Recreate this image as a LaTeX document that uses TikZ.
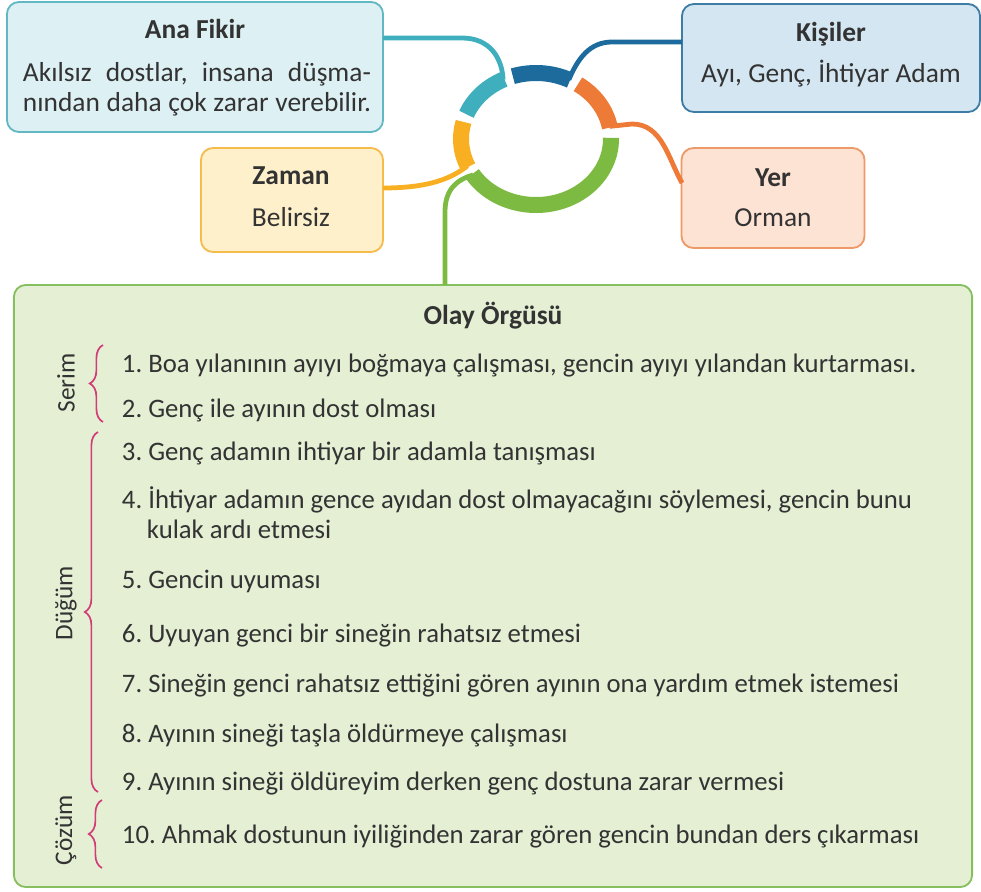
\documentclass[tikz,border=0pt]{standalone}
\usepackage{fontspec}
\usepackage{xcolor}
\setmainfont{Carlito}
\usetikzlibrary{decorations.pathreplacing}

\definecolor{tealC}{HTML}{3FAFBE}
\definecolor{tealF}{HTML}{DDF0F3}
\definecolor{tealB}{HTML}{62B8C2}
\definecolor{blueC}{HTML}{1C6B9C}
\definecolor{blueF}{HTML}{D4E6F1}
\definecolor{blueB}{HTML}{3D7CA5}
\definecolor{orangeC}{HTML}{EE7A38}
\definecolor{orangeF}{HTML}{FCE3D3}
\definecolor{orangeB}{HTML}{EE9A68}
\definecolor{yellowC}{HTML}{F8B022}
\definecolor{yellowF}{HTML}{FEF0CB}
\definecolor{yellowB}{HTML}{F5BC4C}
\definecolor{greenC}{HTML}{7CBA42}
\definecolor{greenF}{HTML}{E4EFD4}
\definecolor{greenB}{HTML}{86BF5F}
\definecolor{braceC}{HTML}{D23C78}
\definecolor{txt}{HTML}{333333}
\frenchspacing

\begin{document}
\begin{tikzpicture}[
  x=0.025cm, y=0.025cm,
  font=\fontsize{19.5}{23}\selectfont, text=txt,
  box/.style={draw, rounded corners=0.3cm, line width=1.3pt, inner sep=0},
  conn/.style={line width=3.4pt},
  ring/.style={line width=0.4cm},
  hd/.style={anchor=base, font=\fontsize{19.5}{23}\selectfont\bfseries},
  ln/.style={anchor=base},
  item/.style={anchor=base west, font=\fontsize{19}{23}\selectfont},
  side/.style={rotate=90, font=\fontsize{18}{21}\selectfont},
  brc/.style={draw=braceC, line width=1.2pt, decorate,
    decoration={brace, amplitude=0.33cm}},
]
\useasboundingbox (0,0) rectangle (981,-892);
% --- kutular ---
\node[box, draw=tealB, fill=tealF, minimum width=9.4cm, minimum height=3.25cm] (ana) at (195,-67) {};
\node[box, draw=blueB, fill=blueF, minimum width=7.45cm, minimum height=2.7cm] (kisi) at (831,-58) {};
\node[box, draw=yellowB, fill=yellowF, minimum width=4.55cm, minimum height=2.6cm] (zaman) at (292,-200) {};
\node[box, draw=orangeB, fill=orangeF, minimum width=4.575cm, minimum height=2.5cm] (yer) at (773,-198) {};
\node[box, draw=greenB, fill=greenF, minimum width=23.95cm, minimum height=15.05cm] (olay) at (493,-586) {};
% --- halka ---
\coordinate (mid) at (536,-139);
\draw[ring, tealC] (mid) ++(115:75 and 66) arc (115:158:75 and 66);
\draw[ring, blueC] (mid) ++(63:75 and 66) arc (63:108:75 and 66);
\draw[ring, orangeC] (mid) ++(10:75 and 66) arc (10:56:75 and 66);
\draw[ring, yellowC] (mid) ++(165:75 and 66) arc (165:205:75 and 66);
\draw[ring, greenC] (mid) ++(212:75 and 66) arc (212:361:75 and 66);
\path (mid) ++(116:75 and 66) coordinate (tealend);
\path (mid) ++(64:75 and 66) coordinate (blueend);
\path (mid) ++(11:75 and 66) coordinate (orangeend);
\path (mid) ++(204:75 and 66) coordinate (yellowend);
\path (mid) ++(213:75 and 66) coordinate (greenend);
% --- baglantilar ---
\coordinate (anaout) at (383,-38);
\coordinate (kisiout) at (682,-42);
\coordinate (yerin) at (682,-183);
\coordinate (zamanout) at (383,-188);
\coordinate (olayin) at (445,-285);
\draw[conn, tealC] (anaout) -- (462,-38) .. controls (490,-38) and (502,-58) .. (tealend);
\draw[conn, blueC] (kisiout) -- (612,-42) .. controls (590,-42) and (578,-58) .. (blueend);
\draw[conn, orangeC] (orangeend) -- (632,-124) .. controls (662,-124) and (668,-158) .. (yerin);
\draw[conn, yellowC] (zamanout) .. controls (430,-188) and (452,-178) .. (yellowend);
\draw[conn, greenC] (olayin) -- (445,-212) .. controls (445,-190) and (456,-180) .. (greenend);
% --- metinler ---
\node[hd] (anahd) at (195,-39) {Ana Fikir};
\node[ln] (ana1) at (197,-82) {\makebox[8.7cm][s]{Akılsız dostlar, insana düşma-}};
\node[ln] (ana2) at (197,-112) {\makebox[8.7cm][s]{nından daha çok zarar verebilir.}};
\node[hd] (kisihd) at (831,-42) {Kişiler};
\node[ln] (kisi1) at (831,-83) {Ayı, Genç, İhtiyar Adam};
\node[hd] (zamanhd) at (291,-185) {Zaman};
\node[ln] (zaman1) at (291,-227) {Belirsiz};
\node[hd] (yerhd) at (773,-187) {Yer};
\node[ln] (yer1) at (773,-227) {Orman};
\node[hd] (olayhd) at (493,-325) {Olay Örgüsü};
% --- olaylar ---
\node[item] (i1) at (117,-373) {1. Boa yılanının ayıyı boğmaya çalışması, gencin ayıyı yılandan kurtarması.};
\node[item] (i2) at (117,-417) {2. Genç ile ayının dost olması};
\node[item] (i3) at (117,-460) {3. Genç adamın ihtiyar bir adamla tanışması};
\node[item] (i4) at (117,-508) {4. İhtiyar adamın gence ayıdan dost olmayacağını söylemesi, gencin bunu};
\node[item] (i4b) at (142,-538) {kulak ardı etmesi};
\node[item] (i5) at (117,-588) {5. Gencin uyuması};
\node[item] (i6) at (117,-642) {6. Uyuyan genci bir sineğin rahatsız etmesi};
\node[item] (i7) at (117,-692) {7. Sineğin genci rahatsız ettiğini gören ayının ona yardım etmek istemesi};
\node[item] (i8) at (117,-742) {8. Ayının sineği taşla öldürmeye çalışması};
\node[item] (i9) at (117,-790) {9. Ayının sineği öldüreyim derken genç dostuna zarar vermesi};
\node[item] (i10) at (117,-843) {10. Ahmak dostunun iyiliğinden zarar gören gencin bundan ders çıkarması};
% --- bolumler ---
\draw[brc] (103,-422) -- (103,-345);
\draw[brc] (98,-792) -- (98,-432);
\draw[brc] (102,-868) -- (102,-800);
\node[side] (serim) at (66,-383) {Serim};
\node[side] (dugum) at (66,-603) {Düğüm};
\node[side] (cozum) at (66,-830) {Çözüm};
\end{tikzpicture}
\end{document}
